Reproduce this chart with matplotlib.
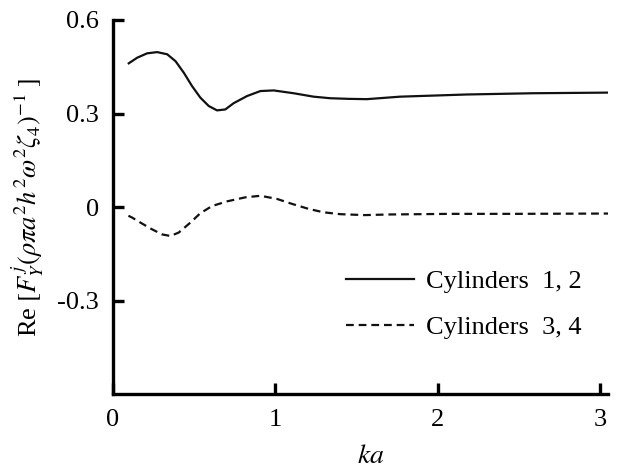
import matplotlib
matplotlib.use("Agg")
import matplotlib.pyplot as plt

plt.rcParams['font.family'] = ['Liberation Serif', 'DejaVu Serif']
plt.rcParams['mathtext.fontset'] = 'stix'

# Re part of the horizontal wave force on each cylinder pair versus ka
ka_12 = [0.097, 0.149, 0.210, 0.272, 0.334, 0.385, 0.436, 0.487, 0.538, 0.590,
         0.641, 0.692, 0.743, 0.826, 0.908, 0.990, 1.113, 1.236, 1.338, 1.451,
         1.564, 1.769, 2.180, 2.588, 3.05]
force_12 = [0.461, 0.479, 0.493, 0.497, 0.490, 0.468, 0.431, 0.388, 0.351, 0.324,
            0.310, 0.313, 0.333, 0.356, 0.372, 0.374, 0.365, 0.354, 0.349, 0.347,
            0.346, 0.354, 0.361, 0.365, 0.367]

ka_34 = [0.095, 0.118, 0.169, 0.231, 0.303, 0.354, 0.405, 0.477, 0.538, 0.610,
         0.702, 0.815, 0.908, 1.010, 1.103, 1.205, 1.297, 1.400, 1.550, 1.700,
         2.077, 2.487, 3.05]
force_34 = [-0.028, -0.034, -0.050, -0.069, -0.088, -0.093, -0.082, -0.050, -0.020, 0.003,
            0.018, 0.031, 0.036, 0.026, 0.010, -0.006, -0.017, -0.023, -0.026, -0.024,
            -0.022, -0.022, -0.021]

labels = ['Cylinders  1, 2', 'Cylinders  3, 4']
xticks = [0, 1, 2, 3]
yticks = [0.6, 0.3, 0, -0.3]
ytick_labels = ['0.6', '0.3', '0', '-0.3']

fig = plt.figure(figsize=(6.36, 4.72), dpi=100)
ax = fig.add_axes([113 / 636, 78 / 472, 495 / 636, 374 / 472])

ax.plot(ka_12, force_12, color='#111111', lw=1.6, label=labels[0])
ax.plot(ka_34, force_34, color='#111111', lw=1.6, dashes=(3.5, 2.2), label=labels[1])

ax.set_xlim(0, 3.05)
ax.set_ylim(-0.6, 0.6)
ax.set_xticks(xticks)
ax.set_xticklabels([str(t) for t in xticks])
ax.set_yticks(yticks)
ax.set_yticklabels(ytick_labels)

for side in ('top', 'right'):
    ax.spines[side].set_visible(False)
for side in ('left', 'bottom'):
    ax.spines[side].set_linewidth(2.4)
ax.tick_params(direction='in', length=8, width=2.4, labelsize=19)
ax.tick_params(axis='x', pad=11)
ax.tick_params(axis='y', pad=10)

ax.set_xlabel('$ka$', fontsize=20)
ax.xaxis.set_label_coords(0.52, -0.135)
ax.set_ylabel(r'Re $[F_Y^{\,j}(\rho\pi a^2 h^2\omega^2\zeta_4)^{-1}\ ]$', fontsize=19)
ax.yaxis.set_label_coords(-0.135, 0.5)

ax.legend(loc='upper left', bbox_to_anchor=((345 - 113) / 495 - 0.02, 0.36),
          frameon=False, fontsize=19, handlelength=2.6, handletextpad=0.45,
          labelspacing=0.85, borderaxespad=0)

fig.savefig('out.png', dpi=100)
